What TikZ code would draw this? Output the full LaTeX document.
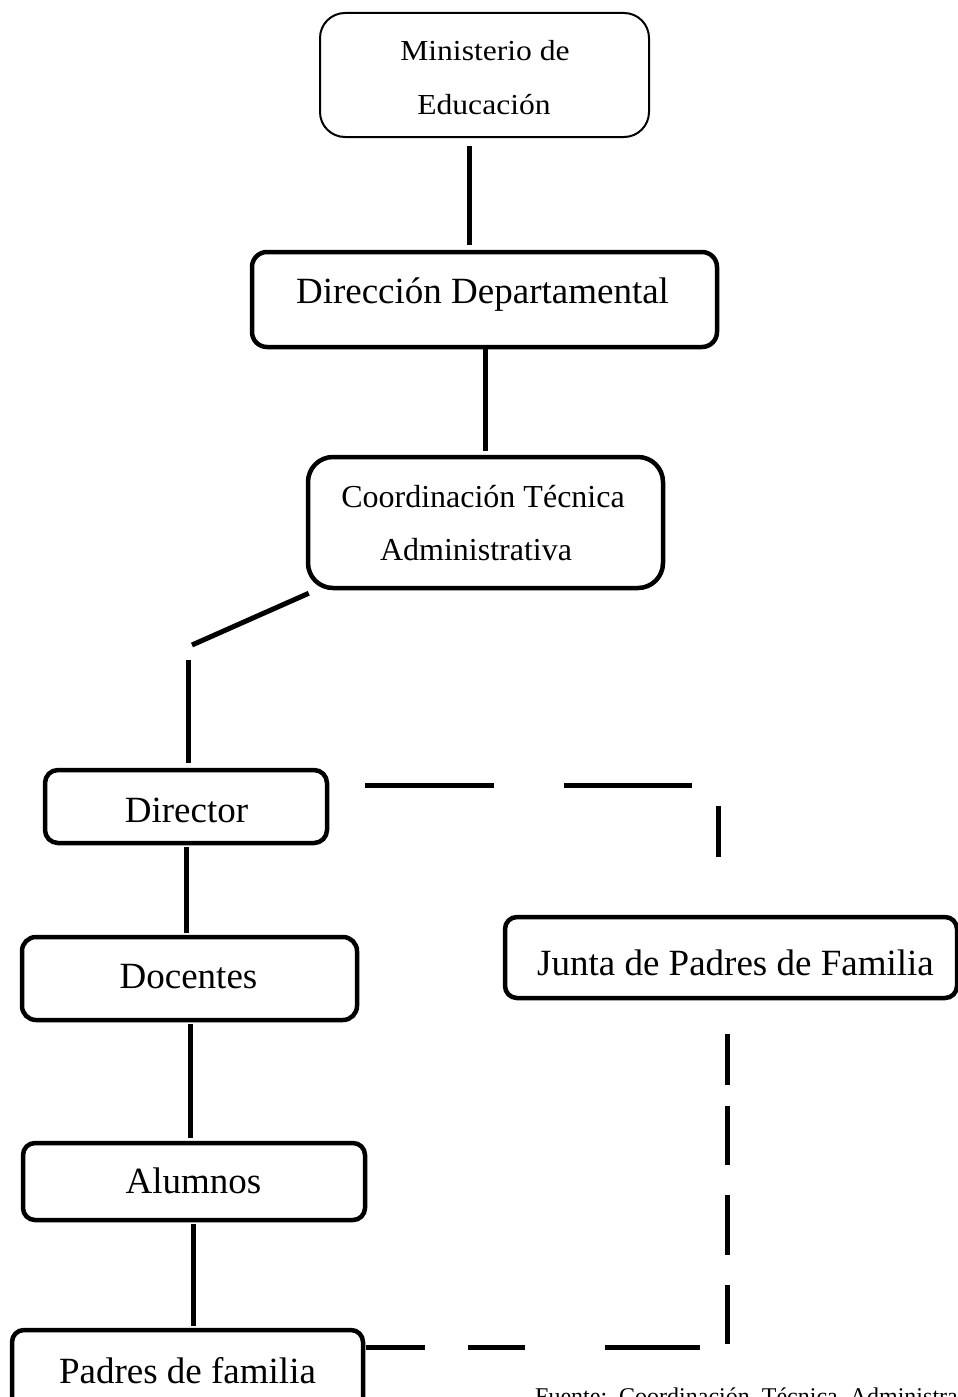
\documentclass[tikz,border=0pt]{standalone}
\usepackage{graphicx}
\usepackage{fontspec}
\setmainfont{Liberation Serif}
\begin{document}
\begin{tikzpicture}[x=1pt,y=-1pt,
  box/.style={draw=black, line width=4.5pt, rounded corners=#1, inner sep=0pt, fill=white},
  box/.default=13pt,
  conn/.style={line width=5pt, line cap=butt},
  big/.style={font=\fontsize{37pt}{44pt}\selectfont, inner sep=0pt, anchor=base},
  mid/.style={font=\fontsize{32pt}{38pt}\selectfont, inner sep=0pt, anchor=base},
  small/.style={font=\fontsize{29pt}{34pt}\selectfont, inner sep=0pt, anchor=base},
]
\useasboundingbox (0,0) rectangle (958,1397);
\clip (0,0) rectangle (958,1397);
\fill[white] (0,0) rectangle (958,1397);

% boxes
\node[box=25pt, line width=2pt, minimum width=329pt, minimum height=124pt] (min) at (484.5,75) {};
\node[box=15pt, minimum width=465pt, minimum height=95pt] (dir) at (484.5,299.5) {};
\node[box=25pt, minimum width=355pt, minimum height=131pt] (coord) at (485.5,522.5) {};
\node[box, minimum width=282pt, minimum height=73pt] (director) at (186,806.5) {};
\node[box=14pt, minimum width=335pt, minimum height=83pt] (docentes) at (189.5,978.5) {};
\node[box=12pt, minimum width=342pt, minimum height=77pt] (alumnos) at (194,1181.5) {};
\node[box=12pt, minimum width=452pt, minimum height=81pt] (junta) at (731,957.5) {};
\node[box=12pt, minimum width=351pt, minimum height=90pt] (padres) at (187.5,1375) {};

% texts
\node[small] (minA) at (485,60) {\scalebox{1.09}[1]{Ministerio de}};
\node[small] (minB) at (484,114) {\scalebox{1.09}[1]{Educación}};
\node[big] (dirT) at (482.5,303) {Dirección Departamental};
\node[mid] (coordA) at (483,507) {Coordinación Técnica};
\node[mid] (coordB) at (476,560) {Administrativa};
\node[big] (directorT) at (186.5,822) {Director};
\node[big] (docentesT) at (188.5,988) {Docentes};
\node[big] (alumnosT) at (193.5,1193) {Alumnos};
\node[big, anchor=base west] (juntaT) at (537,975) {Junta de Padres de Familia};
\node[big] (padresT) at (187.5,1383) {Padres de familia};

\node[inner sep=0pt, anchor=base west, font=\fontsize{24pt}{30pt}\selectfont] (fuente) at (535,1404)
  {Fuente:\hspace{12pt}Coordinación\hspace{12pt}Técnica\hspace{12pt}Administrativa};

% solid connectors
\draw[conn, shorten <=8pt, shorten >=5pt] ([xshift=-15.5pt]min.south) -- ([xshift=-15.5pt]min.south |- dir.north);
\draw[conn, shorten >=4pt] ([xshift=0.5pt]dir.south) -- ([xshift=0.5pt]dir.south |- coord.north);
\coordinate (k1) at (192,645);
\coordinate (k2) at (188,660);
\draw[conn] ([shift={(3pt,-3pt)}]coord.south west) -- (k1);
\draw[conn, shorten >=5pt] (k2) -- (k2 |- director.north);
\draw[conn, shorten <=2pt, shorten >=2pt] (director.south) -- (director.south |- docentes.north);
\draw[conn, shorten <=2pt, shorten >=3pt] ([xshift=0.5pt]docentes.south) -- ([xshift=0.5pt]docentes.south |- alumnos.north);
\draw[conn, shorten <=2pt, shorten >=2pt] ([xshift=-1pt]alumnos.south) -- ([xshift=-1pt]alumnos.south |- padres.north);

% dashed connectors
\coordinate (t1) at (718,785);
\draw[conn, dash pattern=on 129pt off 70pt on 128pt off 47pt on 51pt off 97pt, dash phase=486pt]
  (director.east |- t1) -- (t1) -- (t1 |- junta.north);
\coordinate (t2) at (727,1347);
\draw[conn, dash pattern=on 51pt off 21pt on 59pt off 30pt on 60pt off 30pt on 59pt off 30pt on 95pt off 80pt on 57pt off 43pt on 59pt off 39pt, dash phase=679pt]
  (t2 |- junta.south) -- (t2) -- (padres.east |- t2);
\end{tikzpicture}
\end{document}
